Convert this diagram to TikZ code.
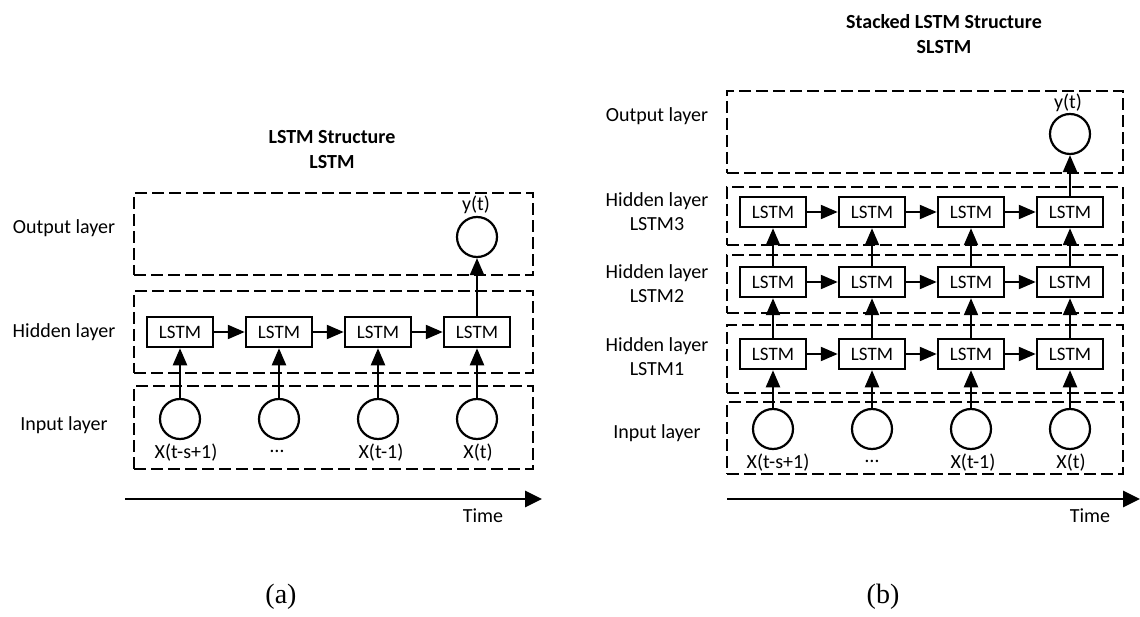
\documentclass[tikz,border=0pt]{standalone}
\usepackage{fontspec}
\setmainfont{Carlito}
\newfontfamily\capfont{Liberation Serif}
\usetikzlibrary{arrows.meta}
\tikzset{
  layer/.style={draw, line width=1.8pt, dash pattern=on 12pt off 5pt, inner sep=0pt},
  lstmbox/.style={draw, line width=2.5pt, minimum width=66, minimum height=30, inner sep=0pt,
    font=\fontsize{19}{20}\selectfont},
  neuron/.style={draw, circle, line width=2.2pt, minimum size=40, inner sep=0pt},
  lbl/.style={font=\fontsize{20}{24}\selectfont, align=center, inner sep=0pt},
  ttl/.style={font=\fontsize{20}{25}\selectfont\bfseries, align=center, inner sep=0pt},
  subcap/.style={font=\capfont\fontsize{28}{30}\selectfont, inner sep=0pt},
  flow/.style={line width=2.2pt, -{Triangle[length=17pt,width=14pt]}},
  timeax/.style={line width=2.8pt, -{Triangle[length=17pt,width=16pt]}}
}
\begin{document}
\begin{tikzpicture}[x=1pt,y=-1pt]
\useasboundingbox (0,0) rectangle (1140,617);
% ---------------- panel (a) ----------------
\node[ttl] (ta) at (332,149.5) {LSTM Structure\\LSTM};
\node[layer, minimum width=399, minimum height=82] (aout) at (333.5,234) {};
\node[layer, minimum width=399, minimum height=82] (ahid) at (333.5,332) {};
\node[layer, minimum width=399, minimum height=83] (ain) at (333.5,427.5) {};
\node[lbl] (la1) at (64,228) {Output layer};
\node[lbl] (la2) at (64,332) {Hidden layer};
\node[lbl] (la3) at (64,425) {Input layer};
\foreach \i/\x in {1/180,2/279,3/378,4/477}{
  \node[lstmbox] (ah\i) at (\x,332) {LSTM};
  \node[neuron] (ax\i) at (\x,419) {};
  \draw[flow] (ax\i) -- (ah\i);
}
\node[lbl] (axl1) at (186,453) {X(t-s+1)};
\node[lbl] (axl2) at (277,451) {…};
\node[lbl] (axl3) at (381,453) {X(t-1)};
\node[lbl] (axl4) at (478,453) {X(t)};
\draw[flow] (ah1) -- (ah2);
\draw[flow] (ah2) -- (ah3);
\draw[flow] (ah3) -- (ah4);
\node[neuron] (ay) at (477,237) {};
\node[lbl] (ayl) at (476,205) {y(t)};
\draw[flow] (ah4) -- (ay);
\coordinate (ats) at (125,499);
\coordinate (ate) at (542,499);
\draw[timeax] (ats) -- (ate);
\node[lbl] (atl) at (483,516) {Time};
\node[subcap] (capa) at (281,597) {(a)};
% ---------------- panel (b) ----------------
\node[ttl] (tb) at (944,34.5) {Stacked LSTM Structure\\SLSTM};
\node[layer, minimum width=396, minimum height=82] (bout) at (925,132) {};
\node[layer, minimum width=396, minimum height=58] (bh3) at (925,216) {};
\node[layer, minimum width=396, minimum height=58] (bh2) at (925,284) {};
\node[layer, minimum width=396, minimum height=68] (bh1) at (925,359) {};
\node[layer, minimum width=396, minimum height=72] (bin) at (925,438) {};
\node[lbl] (lb1) at (657,116) {Output layer};
\node[lbl] (lb2) at (657,212) {Hidden layer\\LSTM3};
\node[lbl] (lb3) at (657,284) {Hidden layer\\LSTM2};
\node[lbl] (lb4) at (657,357) {Hidden layer\\LSTM1};
\node[lbl] (lb5) at (657,433) {Input layer};
\foreach \i/\x in {1/773,2/872,3/971,4/1070}{
  \node[lstmbox] (r1\i) at (\x,354) {LSTM};
  \node[lstmbox] (r2\i) at (\x,282) {LSTM};
  \node[lstmbox] (r3\i) at (\x,212) {LSTM};
  \node[neuron] (bx\i) at (\x,429) {};
  \draw[flow] (bx\i) -- (r1\i);
  \draw[flow] (r1\i) -- (r2\i);
  \draw[flow] (r2\i) -- (r3\i);
}
\foreach \r in {1,2,3}{
  \draw[flow] (r\r1) -- (r\r2);
  \draw[flow] (r\r2) -- (r\r3);
  \draw[flow] (r\r3) -- (r\r4);
}
\node[lbl] (bxl1) at (778,463) {X(t-s+1)};
\node[lbl] (bxl2) at (872,461) {…};
\node[lbl] (bxl3) at (973,463) {X(t-1)};
\node[lbl] (bxl4) at (1071,463) {X(t)};
\node[neuron] (by) at (1070,134) {};
\node[lbl] (byl) at (1068,103) {y(t)};
\draw[flow] (r34) -- (by);
\coordinate (bts) at (727,499);
\coordinate (bte) at (1140,499);
\draw[timeax] (bts) -- (bte);
\node[lbl] (btl) at (1090,516) {Time};
\node[subcap] (capb) at (883,597) {(b)};
\end{tikzpicture}
\end{document}
